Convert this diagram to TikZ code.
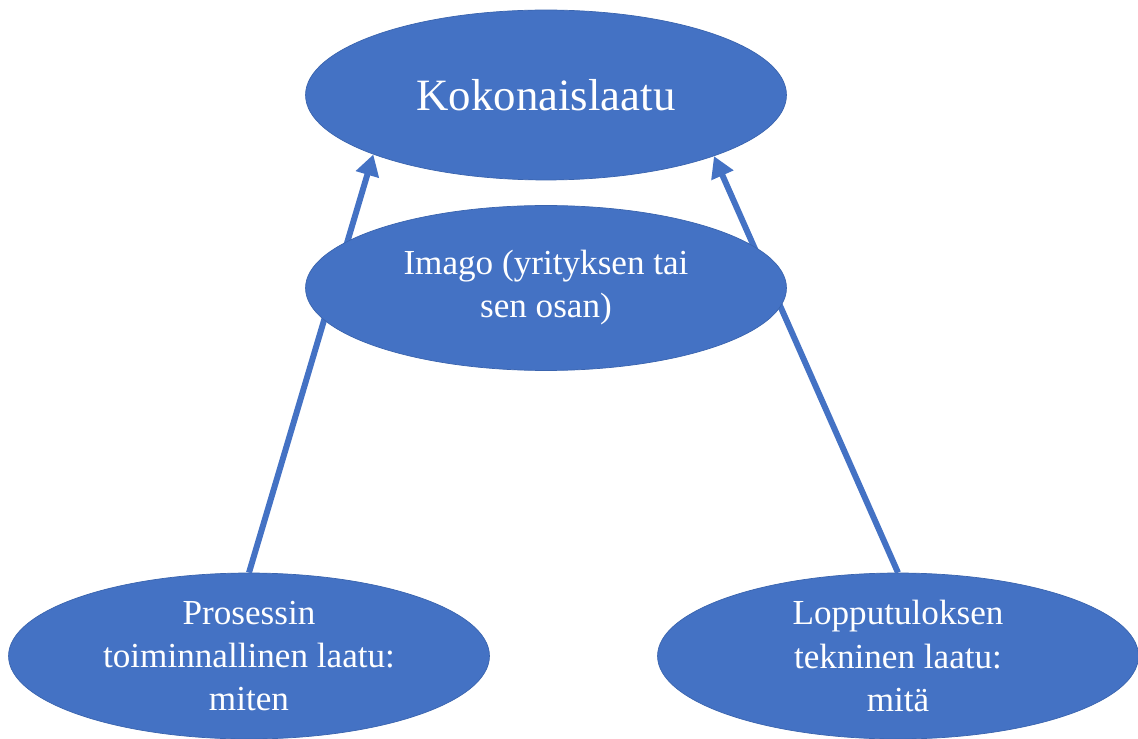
\documentclass[tikz,border=0pt]{standalone}
\usepackage{fontspec}
\setmainfont{Liberation Serif}
\usetikzlibrary{arrows.meta,shapes.geometric}

\definecolor{officeblue}{HTML}{4472C4}
\definecolor{officeedge}{HTML}{3A64AE}

\begin{document}
\begin{tikzpicture}[x=0.02cm, y=-0.02cm,
    blob/.style={ellipse, fill=officeblue, draw=officeedge, line width=0.4pt,
        inner xsep=0pt, inner ysep=-2pt, text=white, align=center,
        minimum width=9.62cm, minimum height=3.32cm,
        font=\fontsize{20}{24.5}\selectfont},
    uparrow/.style={officeblue, line width=3.4pt,
        -{Triangle[length=0.42cm,width=0.46cm]}}]

    % Fix the canvas
    \useasboundingbox (0,0) rectangle (1138,739);

    % Draw the top and bottom ellipses
    \node[blob, minimum height=3.4cm, font=\fontsize{25.5}{30}\selectfont] (koko) at (546,95) {Kokonaislaatu};
    \node[blob] (prosessi) at (249,656) {Prosessin\\toiminnallinen laatu:\\miten};
    \node[blob] (tulos) at (898,656) {Lopputuloksen\\tekninen laatu:\\mitä};

    % Draw the arrows (behind the middle ellipse)
    \draw[uparrow] (prosessi.north) -- (koko.199.3);
    \draw[uparrow] (tulos.north) -- (koko.340.7);

    % Draw the middle ellipse
    \node[blob, minimum height=3.3cm] (imago) at (546,288) {Imago (yrityksen tai\\sen osan)};
\end{tikzpicture}
\end{document}
